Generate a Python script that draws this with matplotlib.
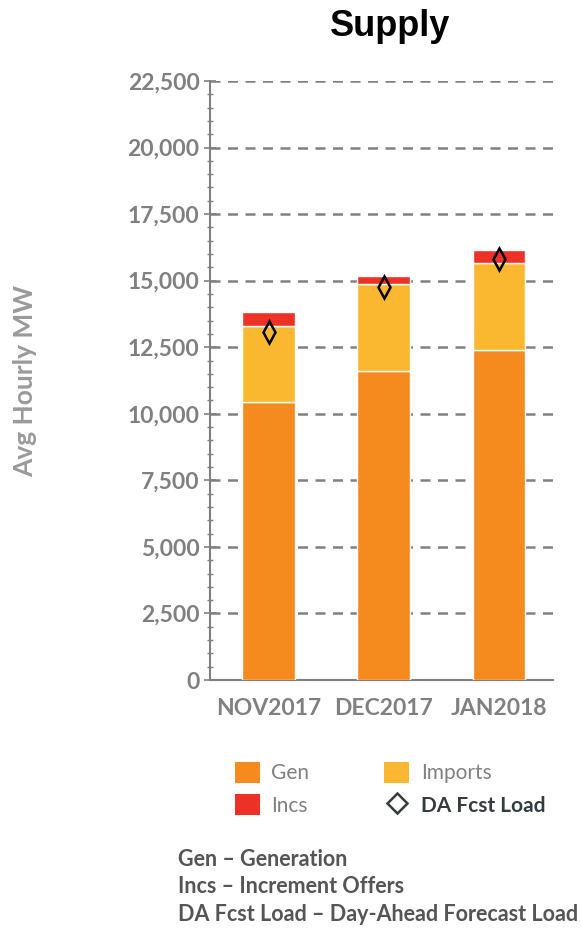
"""Stacked supply bars with day-ahead forecast load markers."""
import matplotlib
matplotlib.use("Agg")
import matplotlib.pyplot as plt
from matplotlib.lines import Line2D
from matplotlib.patches import Patch
from matplotlib.ticker import FuncFormatter, MultipleLocator
import numpy as np

plt.rcParams["font.family"] = ["Lato", "DejaVu Sans"]

months = ["NOV2017", "DEC2017", "JAN2018"]
gen = [10440, 11620, 12390]
imports = [2845, 3250, 3280]
incs = [540, 310, 485]
da_fcst_load = [13065, 14770, 15810]

GEN_COLOR = "#F58A1F"
IMP_COLOR = "#F9B82F"
INC_COLOR = "#EE3127"
GRAY = "#808080"

fig = plt.figure(figsize=(5.81, 9.30), dpi=100)
ax = fig.add_axes([0.3614, 0.2688, 0.5906, 0.6441])

x = np.arange(len(months))
gen = np.array(gen)
imports = np.array(imports)
incs = np.array(incs)
w = 0.46
ax.bar(x, gen, w, color=GEN_COLOR, edgecolor="white", linewidth=1, zorder=3)
ax.bar(x, imports, w, bottom=gen, color=IMP_COLOR, edgecolor="white",
       linewidth=1, zorder=3)
ax.bar(x, incs, w, bottom=gen + imports, color=INC_COLOR, edgecolor="white",
       linewidth=1, zorder=3)
ax.plot(x, da_fcst_load, linestyle="none", marker="d", markersize=11,
        markerfacecolor="none", markeredgecolor="black", markeredgewidth=1.8,
        zorder=4)

ax.set_xlim(-0.51, 2.47)
ax.set_ylim(0, 22500)
ax.yaxis.set_major_locator(MultipleLocator(2500))
ax.yaxis.set_minor_locator(MultipleLocator(500))
ax.yaxis.set_major_formatter(FuncFormatter(lambda v, p: f"{int(v):,}"))
ax.set_xticks(x)
ax.set_xticklabels(months)

ax.tick_params(axis="y", which="major", direction="inout", length=9,
               width=1.2, color=GRAY, labelsize=16.5, labelcolor=GRAY, pad=3)
ax.tick_params(axis="y", which="minor", direction="inout", length=5,
               width=1.0, color=GRAY)
ax.tick_params(axis="x", length=0, labelsize=16.5, labelcolor=GRAY, pad=13)
for lbl in ax.get_yticklabels() + ax.get_xticklabels():
    lbl.set_fontweight("bold")

for v in range(2500, 22501, 2500):
    ax.axhline(v, color=GRAY, linewidth=1.8, linestyle=(0, (4, 3)), zorder=1)

for side in ["top", "right"]:
    ax.spines[side].set_visible(False)
ax.spines["left"].set_color(GRAY)
ax.spines["left"].set_linewidth(1.5)
ax.spines["bottom"].set_color(GRAY)
ax.spines["bottom"].set_linewidth(1.5)

ax.set_ylabel("Avg Hourly MW", fontsize=19, fontweight="bold", color="#9A9A9A")
ax.yaxis.set_label_coords(-0.505, 0.5)

fig.text(0.672, 0.971, "Supply", fontsize=26, fontweight="bold",
         ha="center", va="center", family=["Liberation Sans", "DejaVu Sans"])

handles = [
    Patch(facecolor=GEN_COLOR, label="Gen"),
    Patch(facecolor=INC_COLOR, label="Incs"),
    Patch(facecolor=IMP_COLOR, label="Imports"),
    Line2D([], [], linestyle="none", marker="D", markersize=10,
           markerfacecolor="none", markeredgecolor="#333D40",
           markeredgewidth=1.8, label="DA Fcst Load"),
]
leg = fig.legend(handles=handles, ncol=2, loc="upper left",
                 bbox_to_anchor=(0.404, 0.181), frameon=False, fontsize=15,
                 borderpad=0, borderaxespad=0,
                 handlelength=1.2, handleheight=1.2, handletextpad=0.55,
                 columnspacing=3.6, labelspacing=0.5)
for t in leg.get_texts():
    t.set_color(GRAY)
leg.get_texts()[3].set_color("#333D40")
leg.get_texts()[3].set_fontweight("bold")

notes = [
    "Gen \u2013 Generation",
    "Incs \u2013 Increment Offers",
    "DA Fcst Load \u2013 Day-Ahead Forecast Load",
]
for i, line in enumerate(notes):
    fig.text(0.306, 0.076 - i * 0.0295, line, fontsize=15.5,
             fontweight="bold", color="#555555", ha="left", va="center")

fig.savefig("out.png", dpi=100)
